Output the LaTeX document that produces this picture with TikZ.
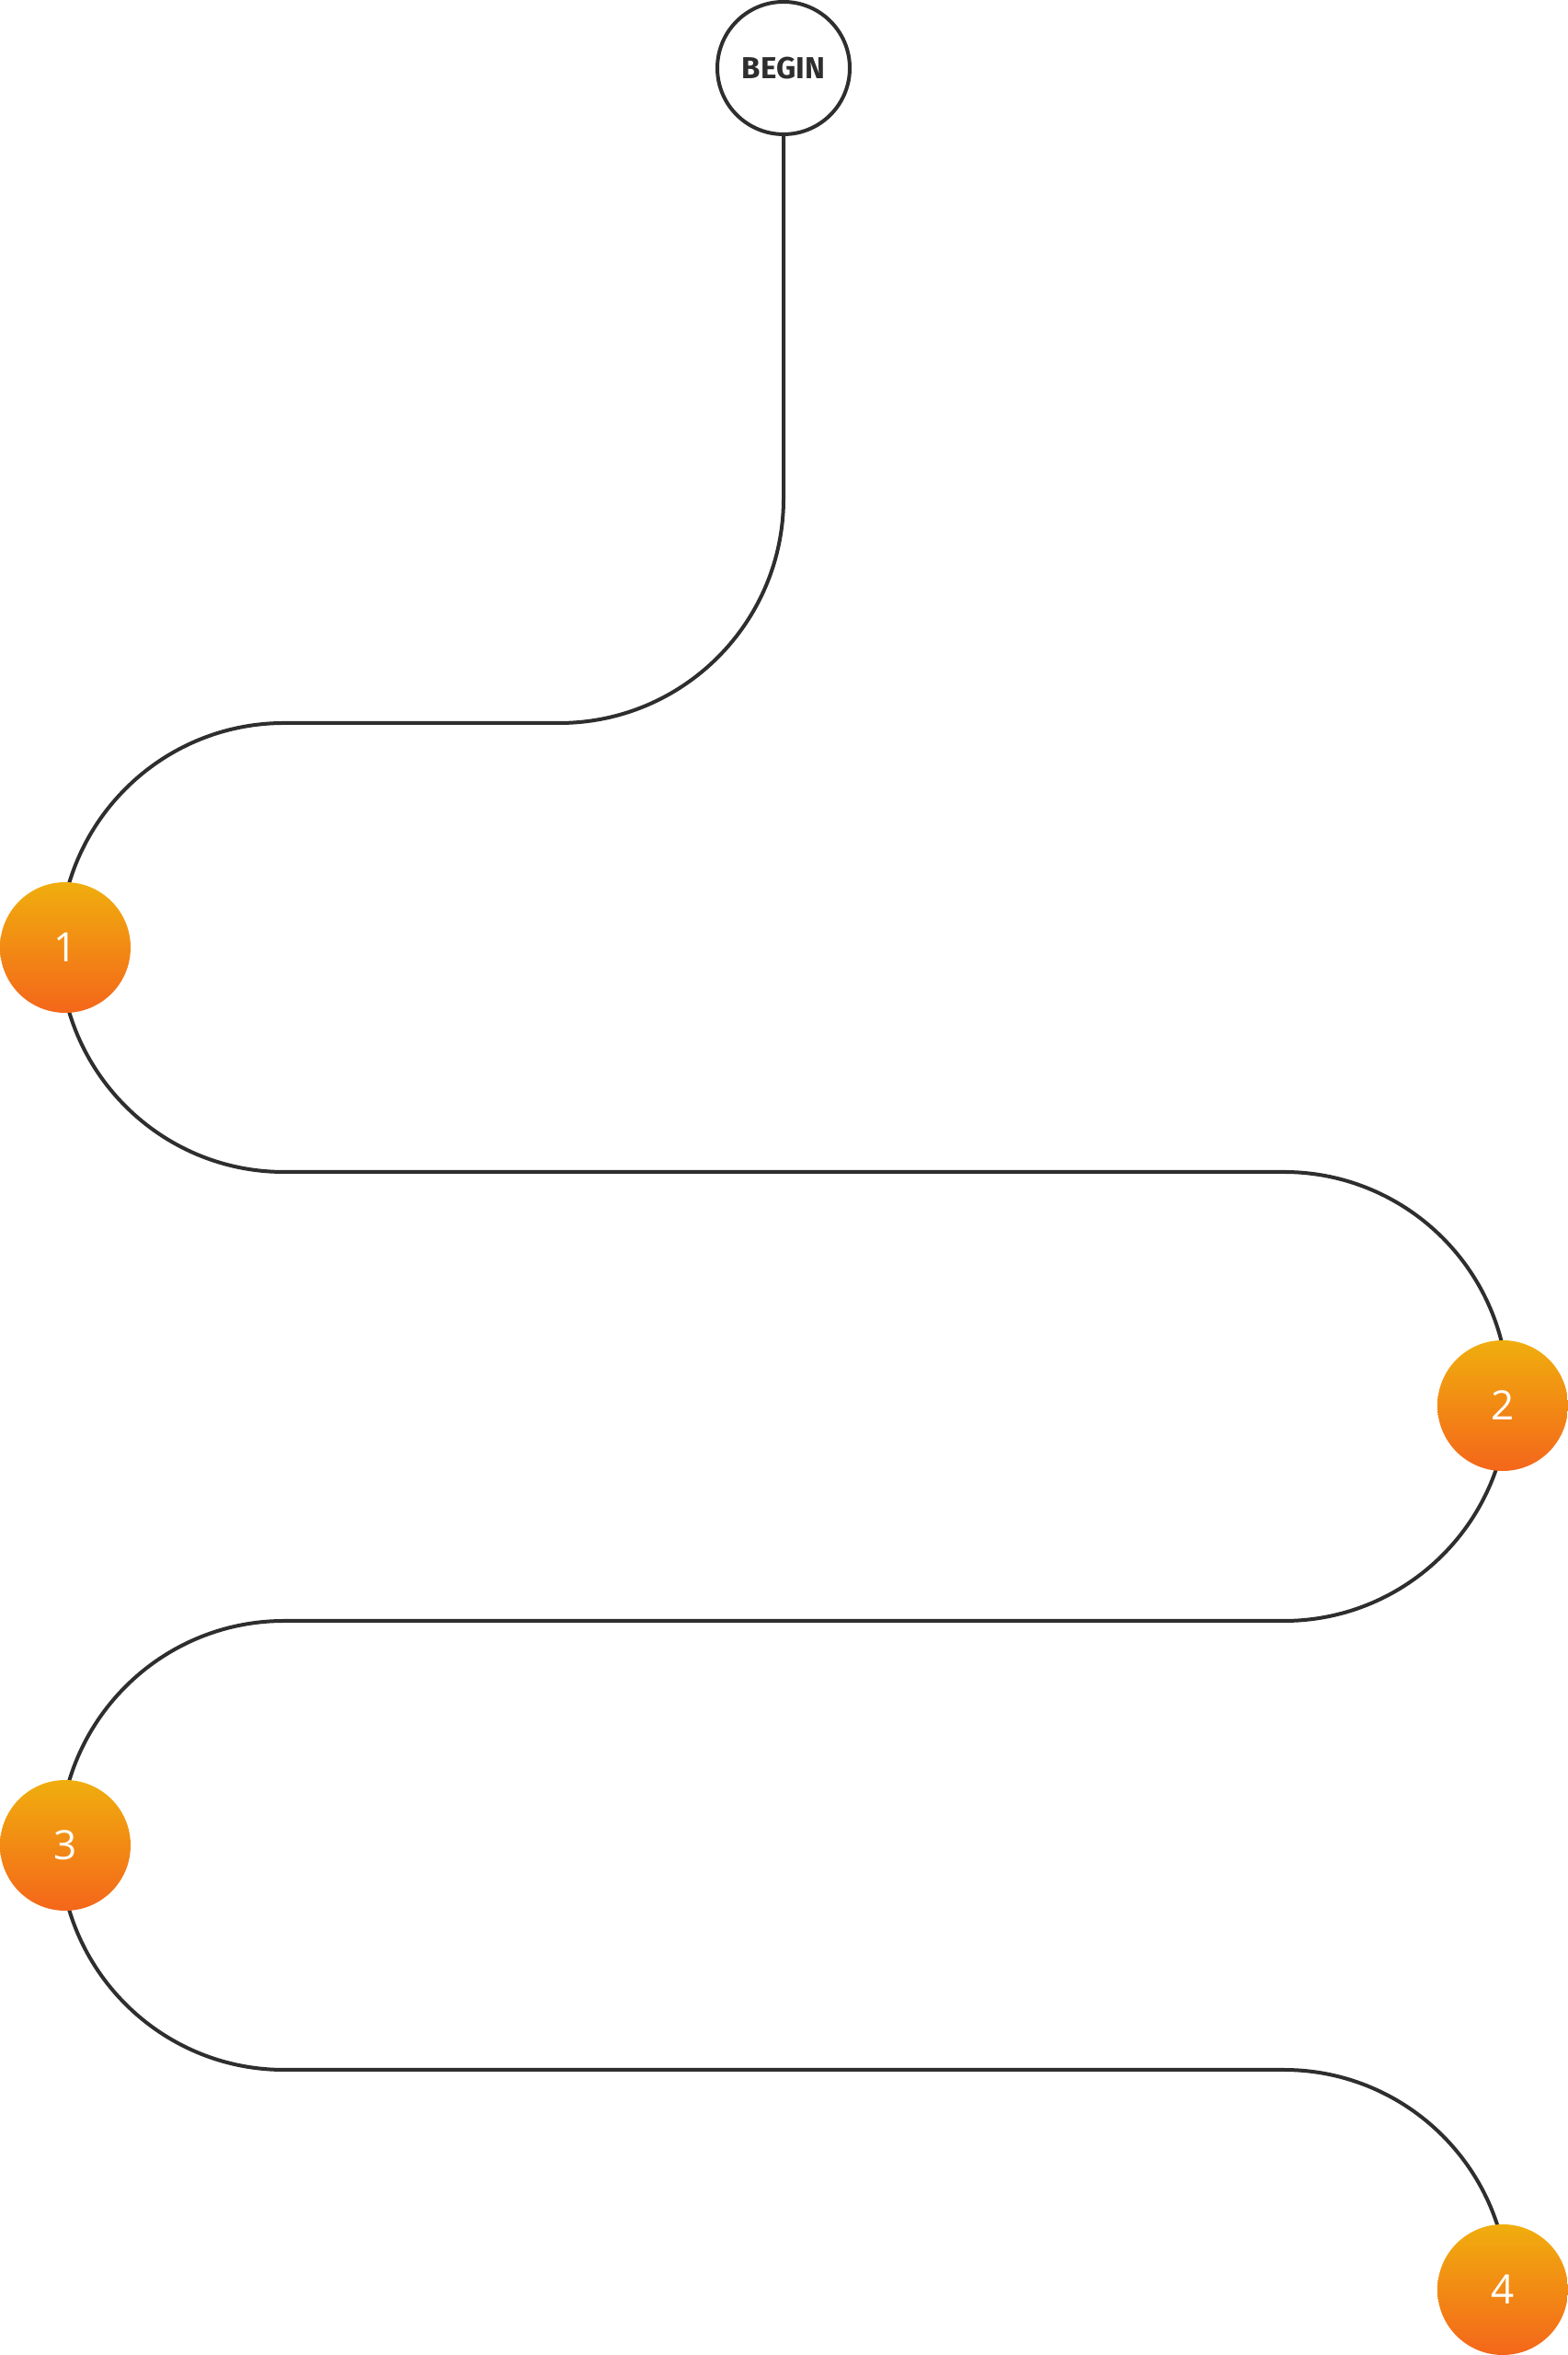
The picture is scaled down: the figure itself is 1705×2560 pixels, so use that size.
\documentclass[tikz,border=0pt]{standalone}
\usepackage{fontspec}
\setmainfont{Open Sans}
\newfontfamily\beginfont{Fira Sans}
\definecolor{pathgray}{HTML}{2E2E2E}
\definecolor{gradtop}{HTML}{F0AE0E}
\definecolor{gradbot}{HTML}{F4661A}
\tikzset{
  road/.style={draw=pathgray, line width=4pt},
  startnode/.style={circle, draw=pathgray, line width=4pt, fill=white, minimum size=144pt, inner sep=0pt,
     font=\beginfont\bfseries\fontsize{33}{36}\selectfont, text=pathgray},
  stepdot/.style={circle, minimum size=142pt, inner sep=0pt, top color=gradtop, bottom color=gradbot,
     font=\fontsize{44}{48}\selectfont, text=white}
}
\begin{document}
\begin{tikzpicture}[x=1pt,y=1pt]
\useasboundingbox (0,0) rectangle (1705,2560);
\node[startnode] (beg) at (852,2486) {BEGIN};
\coordinate (c1) at (71,1530);
\coordinate (c2) at (1634,1032);
\coordinate (c3) at (71,554);
\coordinate (c4) at (1634,71);
\draw[road] (beg.south) -- (852,2018)
  arc[start angle=0, end angle=-90, radius=244] -- (309,1774)
  arc[start angle=90, end angle=270, radius=244] -- (1396,1286)
  arc[start angle=90, end angle=-90, radius=244] -- (309,798)
  arc[start angle=90, end angle=270, radius=244] -- (1396,310)
  arc[start angle=90, end angle=0, radius=244];
\node[stepdot] (n1) at (c1) {1};
\node[stepdot] (n2) at (c2) {2};
\node[stepdot] (n3) at (c3) {3};
\node[stepdot] (n4) at (c4) {4};
\end{tikzpicture}
\end{document}
